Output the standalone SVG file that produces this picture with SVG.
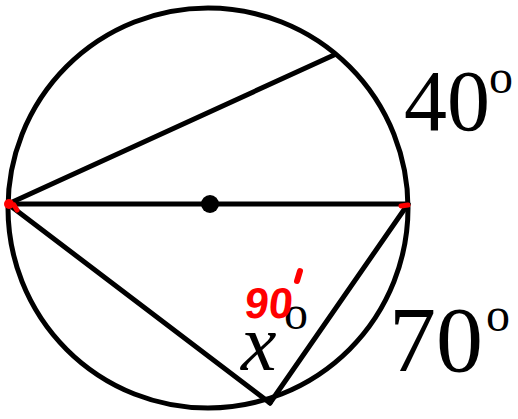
<svg xmlns="http://www.w3.org/2000/svg" width="518" height="419" viewBox="0 0 518 419">
<style>
.ln{stroke:#000;stroke-width:5;fill:none;stroke-linecap:round;stroke-linejoin:round}
.lbl{font-family:"Liberation Serif","Times New Roman",serif;fill:#000}
.red{fill:#ff0000}
</style>
<rect width="518" height="419" fill="#fff"/>
<g id="circle"><circle class="ln" cx="208" cy="208" r="200"/></g>
<g id="connectors">
<line class="ln" x1="8" y1="204" x2="334" y2="55"/>
<line class="ln" x1="8" y1="204" x2="408" y2="204"/>
<line class="ln" x1="8" y1="204" x2="270" y2="403"/>
<line class="ln" x1="270" y1="403" x2="408" y2="204"/>
</g>
<g id="center"><circle cx="210" cy="204" r="9" fill="#000"/></g>
<g id="label40"><text class="lbl" x="404" y="130" font-size="86">40</text><text class="lbl" x="489" y="93" font-size="48">o</text></g>
<g id="label70"><text class="lbl" x="389" y="371" font-size="94">70</text><text class="lbl" x="486" y="331" font-size="48">o</text></g>
<g id="labelx"><text class="lbl" x="241" y="370" font-size="80" font-style="italic">x</text><text class="lbl" x="284" y="329" font-size="48">o</text></g>
<g id="marks">
<text x="244" y="318" font-size="43" font-weight="bold" font-family="Liberation Sans,Arial,sans-serif" class="red" transform="skewX(-6) translate(33,0)">90</text>
<path d="M300 271 L297 281" stroke="#ff0000" stroke-width="6" stroke-linecap="round"/>
<circle cx="9" cy="204" r="5" class="red"/>
<path d="M14 205 L17 210" stroke="#ff0000" stroke-width="5" stroke-linecap="round"/>
<path d="M401 206 L408 205" stroke="#ff0000" stroke-width="5" stroke-linecap="round"/>
</g>
</svg>
